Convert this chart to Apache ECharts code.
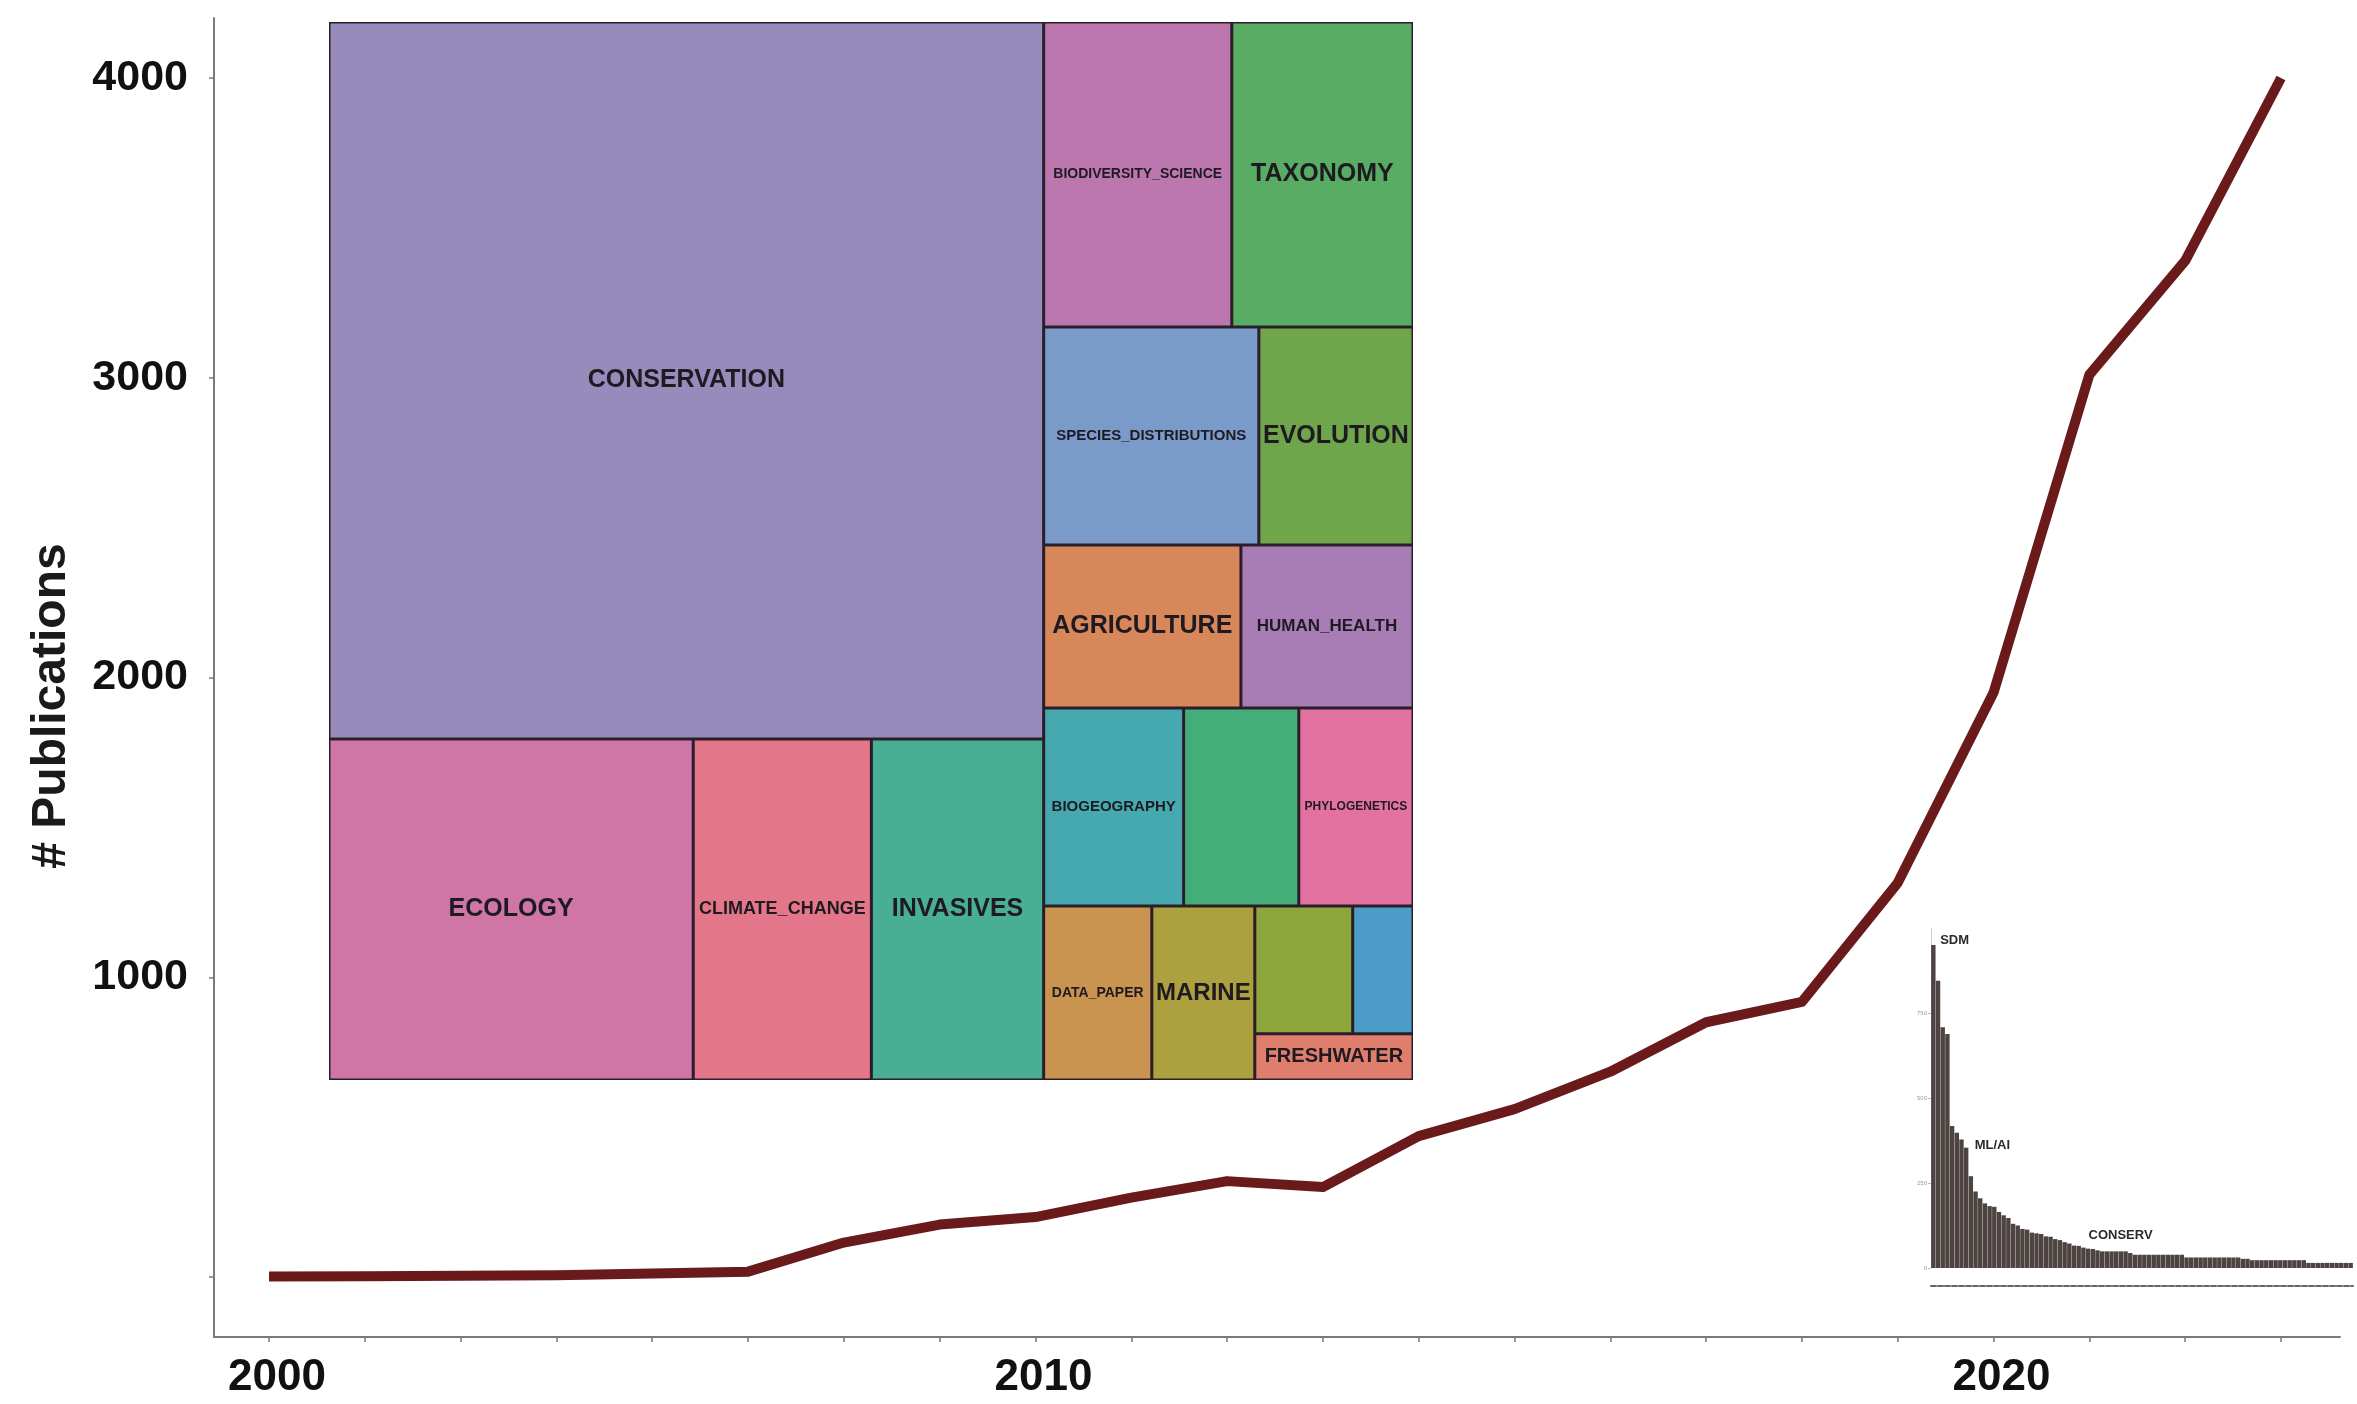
<!DOCTYPE html>
<html>
<head>
<meta charset="utf-8">
<script src="https://cdn.jsdelivr.net/npm/echarts@6/dist/echarts.min.js"></script>
<style>
html,body{margin:0;padding:0;background:#fff;}
#chart{width:2357px;height:1404px;}
</style>
</head>
<body>
<div id="chart"></div>
<script>
// ---------- DATA ----------
const years = [2002,2003,2004,2005,2006,2007,2008,2009,2010,2011,2012,2013,2014,2015,2016,2017,2018,2019,2020,2021,2022,2023];
const publications = [2,3,4,6,12,18,115,175,200,265,320,300,470,560,685,850,918,1315,1950,3010,3390,4000];

const xLabelYears = [2002, 2010, 2020];
const xLabelTexts = ['2000', '2010', '2020'];
const yTickValues = [0, 1000, 2000, 3000, 4000];
const yTickTexts  = ['', '1000', '2000', '3000', '4000'];

const topicNames = ['CONSERVATION','ECOLOGY','CLIMATE_CHANGE','INVASIVES',
  'BIODIVERSITY_SCIENCE','TAXONOMY','SPECIES_DISTRIBUTIONS','EVOLUTION',
  'AGRICULTURE','HUMAN_HEALTH','BIOGEOGRAPHY','OTHER_A','PHYLOGENETICS',
  'DATA_PAPER','MARINE','OTHER_B','OTHER_C','FRESHWATER'];
const topicValues = [5119,1241,607,587,573,552,469,336,321,280,277,228,226,188,179,125,77,73];
const topicShown = [true,true,true,true,true,true,true,true,true,true,true,false,true,true,true,false,false,true];

// grouping of topics (drives the nested treemap arrangement)
const topicTree = [
  ['CONSERVATION', ['ECOLOGY','CLIMATE_CHANGE','INVASIVES']],
  [['BIODIVERSITY_SCIENCE','TAXONOMY'], ['SPECIES_DISTRIBUTIONS','EVOLUTION'],
    [['AGRICULTURE','HUMAN_HEALTH'],
      [['BIOGEOGRAPHY','OTHER_A','PHYLOGENETICS'],
       ['DATA_PAPER','MARINE', [['OTHER_B','OTHER_C'],'FRESHWATER']]]]]
];

const methodValues = [950,845,708,688,418,398,378,354,270,225,205,190,182,180,165,155,147,130,125,115,
  113,104,102,100,93,92,85,82,76,72,66,65,60,57,56,52,49,49,49,49,
  49,49,44,39,39,39,39,39,39,39,39,39,39,39,31,31,31,31,31,31,
  31,31,31,31,31,31,27,27,23,23,23,23,23,23,23,23,23,23,23,23,
  15,15,15,15,15,15,15,15,15,15];
const methodNotes = ['SDM', 'ML/AI', 'CONSERV'];
const methodNoteBars = [0, 8, 34];

// ---------- STYLE ----------
const FONT = '"Liberation Sans", Arial, Helvetica, sans-serif';
const topicColors = {
  CONSERVATION:'#968bbb', ECOLOGY:'#cf76a6', CLIMATE_CHANGE:'#e37789', INVASIVES:'#48ae94',
  BIODIVERSITY_SCIENCE:'#bc78ae', TAXONOMY:'#58ac63', SPECIES_DISTRIBUTIONS:'#7a9bca', EVOLUTION:'#70a64b',
  AGRICULTURE:'#d8875b', HUMAN_HEALTH:'#a87db6', BIOGEOGRAPHY:'#47a9b0', OTHER_A:'#45ad78',
  PHYLOGENETICS:'#e472a0', DATA_PAPER:'#c99450', MARINE:'#ada03e', OTHER_B:'#8ea63b',
  OTHER_C:'#4b9cc6', FRESHWATER:'#e07e6e'
};
const topicFontSize = {
  CONSERVATION:25, ECOLOGY:25, CLIMATE_CHANGE:18, INVASIVES:25, BIODIVERSITY_SCIENCE:14,
  TAXONOMY:25, SPECIES_DISTRIBUTIONS:15, EVOLUTION:25, AGRICULTURE:25, HUMAN_HEALTH:17,
  BIOGEOGRAPHY:15, PHYLOGENETICS:12, DATA_PAPER:14, MARINE:24, FRESHWATER:20
};
const noteOffsets = [[9,-5],[6,-31],[-2,-14]];

let groupCount = 0;
function buildNode(n) {
  if (typeof n === 'string') {
    const i = topicNames.indexOf(n);
    return {
      name: n,
      value: topicValues[i],
      itemStyle: { color: topicColors[n], borderWidth: 1.5, borderColor: '#2b1e2b' },
      label: { show: topicShown[i], fontSize: topicFontSize[n] || 14 }
    };
  }
  groupCount++;
  return { name: 'group_' + groupCount, children: n.map(buildNode) };
}
const treeData = topicTree.map(buildNode);

const barData = methodValues.map((v, i) => {
  const k = methodNoteBars.indexOf(i);
  if (k < 0) return v;
  return {
    value: v,
    label: {
      show: true, position: noteOffsets[k], formatter: methodNotes[k],
      align: 'left', verticalAlign: 'middle',
      fontSize: 13, fontWeight: 'bold', color: '#2a2a2a', fontFamily: FONT
    }
  };
});

const chart = echarts.init(document.getElementById('chart'), null, { renderer: 'canvas' });
const axisGray = '#7a7a7a';
chart.setOption({
  animation: false,
  backgroundColor: '#ffffff',
  textStyle: { fontFamily: FONT },
  grid: [
    { left: 214, right: 17, top: 18, bottom: 67 },
    { left: 1931, right: 4, top: 928, height: 340 }
  ],
  xAxis: [
    {
      type: 'value', gridIndex: 0, min: 2001.426, max: 2023.616,
      axisLine: { show: true, onZero: false, lineStyle: { color: axisGray, width: 2 } },
      axisTick: { show: true, customValues: years, length: 5, lineStyle: { color: axisGray, width: 1.5 } },
      axisLabel: {
        customValues: xLabelYears,
        formatter: v => { const k = xLabelYears.indexOf(v); return k < 0 ? '' : xLabelTexts[k]; },
        fontSize: 44, fontWeight: 'bold', color: '#111', margin: 19, fontFamily: FONT,
        padding: [0, 0, 0, 16]
      },
      splitLine: { show: false }
    },
    {
      type: 'category', gridIndex: 1, data: methodValues.map((_, i) => 'M' + (i + 1)),
      offset: 18,
      axisLine: { show: true, onZero: false, lineStyle: { color: '#666', width: 2, type: [5, 2] } },
      axisTick: { show: false }, axisLabel: { show: false }, splitLine: { show: false }
    }
  ],
  yAxis: [
    {
      type: 'value', gridIndex: 0, min: -200, max: 4200,
      name: '# Publications', nameLocation: 'middle', nameGap: 138,
      nameTextStyle: { fontSize: 48, fontWeight: 'bold', color: '#1a1a1a', fontFamily: FONT, padding: [0, 57, 0, 0] },
      axisLine: { show: true, onZero: false, lineStyle: { color: axisGray, width: 2 } },
      axisTick: { show: true, customValues: yTickValues, length: 5, lineStyle: { color: axisGray, width: 1.5 } },
      axisLabel: {
        customValues: yTickValues,
        formatter: v => { const k = yTickValues.indexOf(v); return k < 0 ? '' : yTickTexts[k]; },
        fontSize: 43, fontWeight: 'bold', color: '#111', margin: 26, fontFamily: FONT
      },
      splitLine: { show: false }
    },
    {
      type: 'value', gridIndex: 1, min: 0, max: 1000, interval: 250,
      axisLine: { show: true, onZero: false, lineStyle: { color: '#cfcfcf', width: 1 } },
      axisTick: { show: true, length: 3, lineStyle: { color: '#bbbbbb' } },
      axisLabel: { fontSize: 6, color: '#9a9a9a', margin: 4, showMaxLabel: false },
      splitLine: { show: false }
    }
  ],
  series: [
    {
      type: 'line', xAxisIndex: 0, yAxisIndex: 0,
      data: years.map((y, i) => [y, publications[i]]),
      showSymbol: false, symbol: 'none',
      lineStyle: { width: 10, color: '#6b1a1c', join: 'round', cap: 'butt' },
      z: 3
    },
    {
      type: 'bar', xAxisIndex: 1, yAxisIndex: 1,
      data: barData, barCategoryGap: '6%',
      itemStyle: { color: '#4d4340' },
      z: 2
    },
    {
      type: 'treemap',
      left: 329, top: 22, width: 1084, height: 1058,
      squareRatio: 1, sort: false, roam: false, nodeClick: false,
      visibleMin: 0,
      breadcrumb: { show: false },
      itemStyle: { borderWidth: 0, gapWidth: 0, borderColor: '#2b1e2b' },
      upperLabel: { show: false },
      label: {
        show: true, position: 'inside', fontFamily: FONT, fontWeight: 'bold',
        color: '#1e1a22', overflow: 'none', padding: 0
      },
      emphasis: { disabled: true },
      data: treeData,
      z: 5
    }
  ]
});
</script>
</body>
</html>
